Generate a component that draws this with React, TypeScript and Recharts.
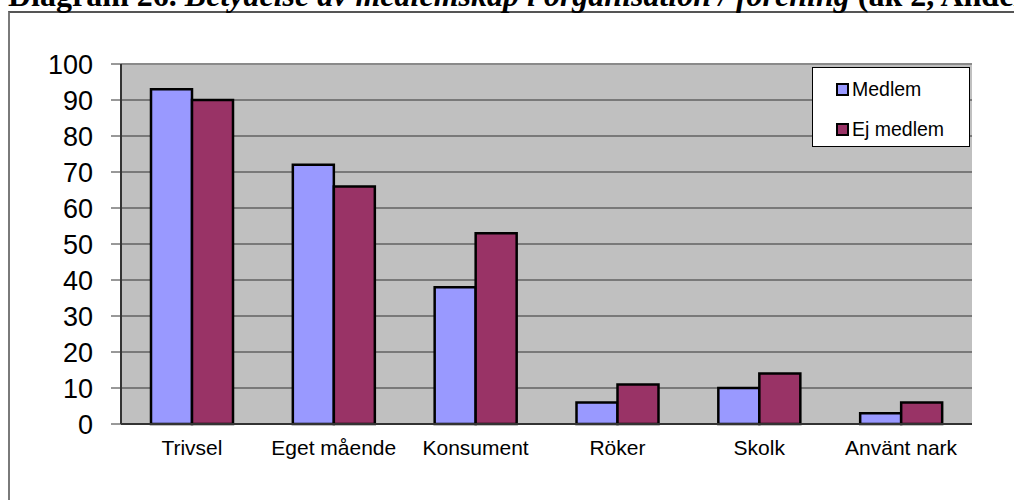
import {
  BarChart,
  Bar,
  XAxis,
  YAxis,
  CartesianGrid,
  ReferenceLine,
} from "recharts";

const categories = ["Trivsel", "Eget mående", "Konsument", "Röker", "Skolk", "Använt nark"];
const medlem = [93, 72, 38, 6, 10, 3];
const ejMedlem = [90, 66, 53, 11, 14, 6];
const yTicks = [0, 10, 20, 30, 40, 50, 60, 70, 80, 90, 100];
const edgeTicks = [0, 1, 2, 3, 4, 5, 6];

const series = [
  { key: "medlem", name: "Medlem", color: "#9999FF" },
  { key: "ejMedlem", name: "Ej medlem", color: "#993366" },
];

const data = categories.map((name, i) => ({
  name,
  medlem: medlem[i],
  ejMedlem: ejMedlem[i],
}));

const FONT = '"Liberation Sans", Arial, sans-serif';

// legend drawn outside the chart so it doesn't eat into the plot area
const LegendBox = () => (
  <div
    style={{
      position: "absolute",
      left: 812,
      top: 67,
      width: 156,
      height: 78,
      background: "#fff",
      border: "1px solid #000",
      fontFamily: FONT,
      fontSize: 19.5,
      color: "#000",
    }}
  >
    {series.map((s, i) => (
      <div
        key={s.key}
        style={{
          position: "absolute",
          left: 23,
          top: 9 + i * 40,
          display: "flex",
          alignItems: "center",
          lineHeight: "24px",
          whiteSpace: "nowrap",
        }}
      >
        <span
          style={{
            width: 9,
            height: 9,
            border: "2px solid #000",
            background: s.color,
            display: "inline-block",
            marginRight: 3,
          }}
        />
        {s.name}
      </div>
    ))}
  </div>
);

export default function App() {
  return (
    <div style={{ position: "absolute", left: 0, top: 0, width: 1014, height: 500, overflow: "hidden", background: "#fff" }}>
      <div
        style={{
          position: "absolute",
          left: 8,
          top: 11,
          width: 1100,
          height: 600,
          borderLeft: "2px solid #7a7a7a",
          borderTop: "2px solid #555",
        }}
      />
      <svg width={1014} height={20} style={{ position: "absolute", left: 0, top: 0 }}>
        <text x={8} y={6} fontFamily='"Liberation Serif", "Times New Roman", serif' fontSize={32} fontWeight="bold" fill="#000">
          <tspan>Diagram 26. </tspan>
          <tspan fontStyle="italic">Betydelse av medlemskap i organisation / förening</tspan>
          <tspan> (åk 2, Andel %)</tspan>
        </text>
      </svg>
      <div style={{ position: "absolute", left: 0, top: 0 }}>
        <BarChart
          width={1014}
          height={500}
          data={data}
          margin={{ top: 64, right: 42, bottom: 46, left: 0 }}
          barGap={0}
          barSize={41}
        >
          <CartesianGrid fill="#C0C0C0" stroke="#333" strokeWidth={1} vertical={false} />
          <XAxis
            xAxisId="edges"
            type="number"
            domain={[0, 6]}
            ticks={edgeTicks}
            tick={() => <g />}
            tickSize={6}
            tickLine={{ stroke: "#333", strokeWidth: 1 }}
            axisLine={false}
            height={0}
          />
          <XAxis
            dataKey="name"
            height={30}
            tickLine={false}
            tickSize={0}
            tickMargin={16}
            axisLine={{ stroke: "#333", strokeWidth: 2 }}
            tick={{ fill: "#000", fontSize: 21, fontFamily: FONT }}
            interval={0}
          />
          <YAxis
            domain={[0, 100]}
            ticks={yTicks}
            width={121}
            tickSize={10}
            tickMargin={18}
            interval={0}
            axisLine={{ stroke: "#333", strokeWidth: 2 }}
            tickLine={{ stroke: "#333", strokeWidth: 1 }}
            tick={{ fill: "#000", fontSize: 27, fontFamily: FONT }}
          />
          <YAxis
            yAxisId="right"
            orientation="right"
            domain={[0, 100]}
            width={0}
            tick={false}
            tickLine={false}
            axisLine={{ stroke: "#8a8a8a", strokeWidth: 2 }}
          />
          <ReferenceLine y={100} stroke="#8a8a8a" strokeWidth={2} />
          {series.map((s) => (
            <Bar
              key={s.key}
              dataKey={s.key}
              name={s.name}
              fill={s.color}
              stroke="#000"
              strokeWidth={2.5}
              isAnimationActive={false}
            />
          ))}
        </BarChart>
      </div>
      <LegendBox />
    </div>
  );
}
